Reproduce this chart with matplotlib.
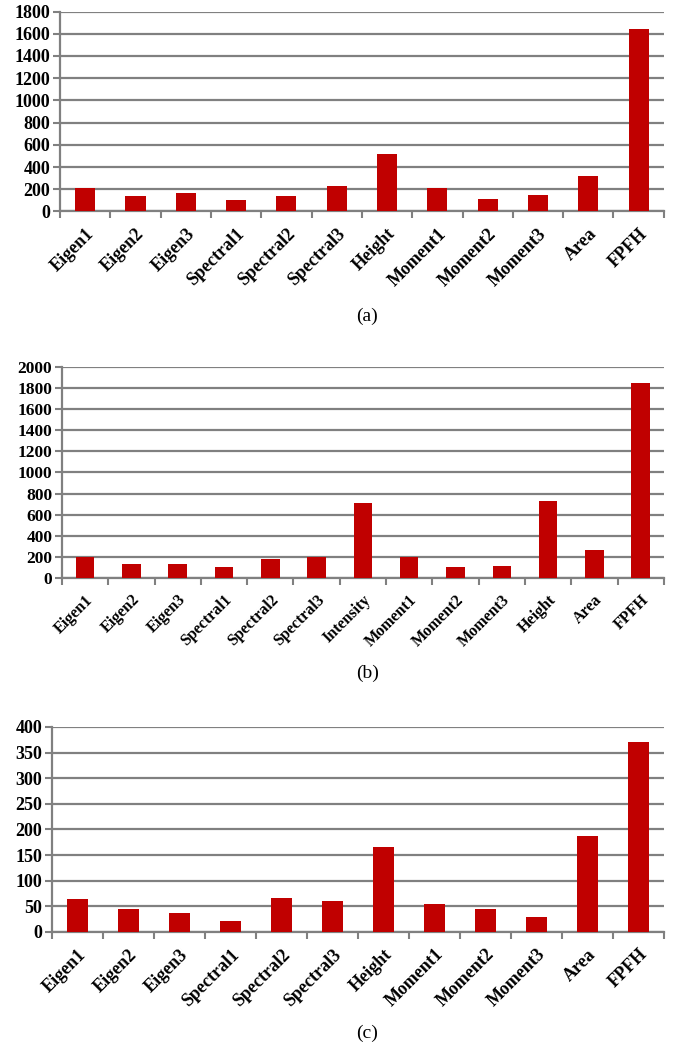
import numpy as np
import matplotlib
matplotlib.use('AGG')
import matplotlib.pyplot as plt

# panel (a)
labels_a = ['Eigen1', 'Eigen2', 'Eigen3', 'Spectral1', 'Spectral2', 'Spectral3',
            'Height', 'Moment1', 'Moment2', 'Moment3', 'Area', 'FPFH']
values_a = [215, 135, 165, 100, 135, 225, 520, 215, 110, 145, 315, 1640]
ticks_a = [0, 200, 400, 600, 800, 1000, 1200, 1400, 1600, 1800]

# panel (b)
labels_b = ['Eigen1', 'Eigen2', 'Eigen3', 'Spectral1', 'Spectral2', 'Spectral3',
            'Intensity', 'Moment1', 'Moment2', 'Moment3', 'Height', 'Area', 'FPFH']
values_b = [200, 135, 135, 100, 180, 200, 710, 200, 100, 110, 730, 265, 1850]
ticks_b = [0, 200, 400, 600, 800, 1000, 1200, 1400, 1600, 1800, 2000]

# panel (c)
labels_c = ['Eigen1', 'Eigen2', 'Eigen3', 'Spectral1', 'Spectral2', 'Spectral3',
            'Height', 'Moment1', 'Moment2', 'Moment3', 'Area', 'FPFH']
values_c = [64, 44, 38, 22, 67, 60, 166, 55, 44, 29, 188, 371]
ticks_c = [0, 50, 100, 150, 200, 250, 300, 350, 400]

BAR = '#C00000'
GRID = '#808080'
SERIF = 'Liberation Serif'

fig = plt.figure(figsize=(6.8, 10.48), dpi=100)


def panel(rect, labels, values, ticks, caption, cap_y, fs_x, fs_y):
    ax = fig.add_axes(rect)
    n = len(labels)
    x = np.arange(n) + 0.5
    ax.bar(x, values, width=0.4, color=BAR, zorder=3)
    ax.set_xlim(0, n)
    ax.set_ylim(ticks[0], ticks[-1])
    ax.set_yticks(ticks)
    ax.set_yticklabels([str(t) for t in ticks], fontfamily=SERIF,
                       fontweight='bold', fontsize=fs_y)
    ax.yaxis.grid(True, color=GRID, linewidth=1.6, zorder=1)
    ax.set_axisbelow(True)
    # category boundaries carry the tick marks
    ax.set_xticks(np.arange(n + 1))
    ax.set_xticklabels([])
    ax.set_xticks(x, minor=True)
    ax.set_xticklabels(labels, minor=True, rotation=45, ha='right',
                       rotation_mode='anchor', fontfamily=SERIF,
                       fontweight='bold', fontsize=fs_x)
    ax.tick_params(axis='x', which='minor', length=0, pad=10)
    ax.tick_params(axis='x', which='major', length=5, width=1.5, color=GRID)
    ax.tick_params(axis='y', length=5, width=1.5, color=GRID, pad=2)
    for s in ['top', 'right']:
        ax.spines[s].set_visible(False)
    for s in ['left', 'bottom']:
        ax.spines[s].set_color(GRID)
        ax.spines[s].set_linewidth(1.6)
    fig.text(0.54, cap_y, caption, ha='center', va='center',
             fontfamily=SERIF, fontsize=14)
    return ax


panel([0.0882, 0.7982, 0.888, 0.1908], labels_a, values_a, ticks_a,
      '(a)', 1 - 316 / 1048, 13, 13)
panel([0.0912, 0.4485, 0.885, 0.2013], labels_b, values_b, ticks_b,
      '(b)', 1 - 673 / 1048, 11.5, 12.5)
panel([0.0765, 0.1107, 0.900, 0.1956], labels_c, values_c, ticks_c,
      '(c)', 1 - 1033 / 1048, 13, 13)

plt.savefig('out.png', dpi=100)
